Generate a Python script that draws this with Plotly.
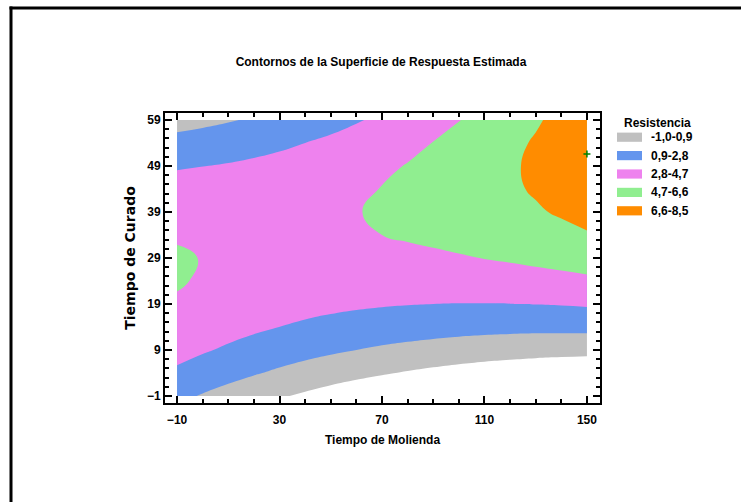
import plotly.graph_objects as go

# ---- data ----
tiempo_molienda = [-10, 0, 10, 20, 30, 40, 50, 60, 70, 80, 90, 100, 110, 120, 130, 140, 150]
tiempo_curado = [-1, 4, 9, 14, 19, 24, 29, 34, 39, 44, 49, 54, 59]
resistencia = [
    [1.34, 0.76, 0.21, -0.32, -0.82, -1.29, -1.74, -2.16, -2.56, -2.93, -3.27, -3.59, -3.88, -4.14, -4.38, -4.59, -4.78],
    [2.49, 1.98, 1.50, 1.04, 0.61, 0.21, -0.17, -0.52, -0.84, -1.14, -1.41, -1.66, -1.88, -2.07, -2.24, -2.38, -2.49],
    [3.41, 2.97, 2.56, 2.17, 1.81, 1.48, 1.18, 0.90, 0.64, 0.42, 0.22, 0.04, -0.11, -0.23, -0.33, -0.39, -0.44],
    [4.10, 3.73, 3.39, 3.08, 2.79, 2.53, 2.30, 2.09, 1.91, 1.75, 1.62, 1.52, 1.44, 1.39, 1.36, 1.37, 1.39],
    [4.57, 4.27, 4.00, 3.76, 3.54, 3.35, 3.19, 3.05, 2.94, 2.86, 2.80, 2.77, 2.76, 2.78, 2.83, 2.90, 3.00],
    [4.81, 4.58, 4.39, 4.22, 4.07, 3.95, 3.86, 3.79, 3.75, 3.74, 3.75, 3.79, 3.86, 3.95, 4.07, 4.21, 4.38],
    [4.82, 4.67, 4.54, 4.44, 4.37, 4.32, 4.30, 4.31, 4.34, 4.40, 4.48, 4.59, 4.73, 4.89, 5.08, 5.29, 5.53],
    [4.61, 4.53, 4.48, 4.45, 4.45, 4.47, 4.52, 4.60, 4.70, 4.83, 4.98, 5.16, 5.37, 5.60, 5.86, 6.15, 6.46],
    [4.18, 4.17, 4.19, 4.23, 4.30, 4.39, 4.51, 4.66, 4.83, 5.03, 5.26, 5.51, 5.79, 6.09, 6.43, 6.78, 7.17],
    [3.52, 3.58, 3.67, 3.78, 3.92, 4.09, 4.28, 4.50, 4.74, 5.01, 5.31, 5.63, 5.98, 6.36, 6.76, 7.19, 7.64],
    [2.63, 2.77, 2.92, 3.11, 3.32, 3.56, 3.82, 4.11, 4.42, 4.77, 5.13, 5.53, 5.95, 6.40, 6.87, 7.37, 7.90],
    [1.52, 1.72, 1.95, 2.21, 2.49, 2.80, 3.13, 3.50, 3.88, 4.30, 4.73, 5.20, 5.69, 6.21, 6.76, 7.33, 7.92],
    [0.18, 0.46, 0.76, 1.09, 1.44, 1.82, 2.22, 2.66, 3.11, 3.60, 4.11, 4.65, 5.21, 5.80, 6.41, 7.06, 7.72],
]
niveles = [-1.0, 0.9, 2.8, 4.7, 6.6, 8.5]
etiquetas = ["-1,0-0,9", "0,9-2,8", "2,8-4,7", "4,7-6,6", "6,6-8,5"]
colores = ["#C0C0C0", "#6495ED", "#EE82EE", "#90EE90", "#FF8C00"]
optimo_x = [150]
optimo_y = [51.6]

# ---- layout geometry ----
W, H = 741, 502
ML, MR, MT, MB = 165, 141, 113, 99
PW, PH = W - ML - MR, H - MT - MB

def px(xp):
    return (xp - ML) / PW

def py(yp):
    return (H - MB - yp) / PH

NARROW = "Liberation Sans Narrow, Arial Narrow, Liberation Sans, sans-serif"
step = niveles[1] - niveles[0]
n = len(niveles)
cscale = [[0.0, "#FFFFFF"]]
for i, c in enumerate(colores):
    cscale.append([(i + 1) / n, c])
cscale.append([1.0, colores[-1]])

fig = go.Figure()
fig.add_trace(go.Contour(
    x=tiempo_molienda, y=tiempo_curado, z=resistencia,
    contours=dict(start=niveles[0], end=niveles[-1], size=step,
                  coloring="fill", showlines=False),
    line=dict(smoothing=1.3, width=0),
    colorscale=cscale, showscale=False, hoverinfo="skip",
))
fig.add_trace(go.Scatter(
    x=optimo_x, y=optimo_y, mode="markers", cliponaxis=False,
    marker=dict(symbol="cross-thin", size=5, line=dict(color="#008000", width=1.5)),
    hoverinfo="skip", showlegend=False,
))

axis_common = dict(
    showline=True, linecolor="black", linewidth=2, mirror="ticks",
    ticks="inside", ticklen=7, tickwidth=2, tickcolor="black",
    showgrid=False, zeroline=False,
    tickfont=dict(family=NARROW, size=12, color="black", weight="bold"),
)
fig.update_xaxes(
    range=[-14.7, 155.1], tickmode="linear", tick0=-10, dtick=40,
    ticklabelstandoff=5,
    minor=dict(ticks="inside", ticklen=4, tickwidth=1.5, tickcolor="black",
               tickmode="linear", tick0=-10, dtick=10, showgrid=False),
    title=dict(text="Tiempo de Molienda", standoff=9,
               font=dict(family=NARROW, size=12, color="black", weight="bold")),
    **axis_common,
)
fig.update_yaxes(
    range=[-2.5, 60.5], tickmode="linear", tick0=-1, dtick=10,
    minor=dict(ticks="inside", ticklen=4, tickwidth=1.5, tickcolor="black",
               tickmode="linear", tick0=-1, dtick=2, showgrid=False),
    title=dict(text="Tiempo de Curado", standoff=8,
               font=dict(family="DejaVu Sans", size=14, color="black", weight="bold")),
    **axis_common,
)

# outer frame: top and left edges as thin filled bars kept inside the page
shapes = [
    dict(type="rect", xref="paper", yref="paper", layer="below",
         x0=px(9.5), x1=px(W), y0=py(9.5), y1=py(6.5),
         line=dict(width=0), fillcolor="black"),
    dict(type="rect", xref="paper", yref="paper", layer="below",
         x0=px(9.5), x1=px(12.5), y0=py(H), y1=py(6.5),
         line=dict(width=0), fillcolor="black"),
]
annotations = [dict(text="Resistencia", xref="paper", yref="paper",
                    x=px(657), y=py(123), showarrow=False,
                    xanchor="center", yanchor="middle",
                    font=dict(family=NARROW, size=12, color="black", weight="bold"))]
y0_leg, dy_leg = 137.2, 18.4
for i, (lab, col) in enumerate(zip(etiquetas, colores)):
    yc = y0_leg + i * dy_leg
    shapes.append(dict(type="rect", xref="paper", yref="paper",
                       x0=px(617), x1=px(642), y0=py(yc + 4.6), y1=py(yc - 4.6),
                       line=dict(width=0), fillcolor=col))
    annotations.append(dict(text=lab, xref="paper", yref="paper",
                            x=px(649), y=py(yc), showarrow=False,
                            xanchor="left", yanchor="middle",
                            font=dict(family=NARROW, size=12, color="black", weight="bold")))

fig.update_layout(
    width=W, height=H,
    margin=dict(l=ML, r=MR, t=MT, b=MB, autoexpand=False),
    paper_bgcolor="white", plot_bgcolor="white",
    showlegend=False,
    title=dict(text="Contornos de la Superficie de Respuesta Estimada",
               x=px(381), xanchor="center", xref="paper",
               y=1 - 62 / H, yanchor="middle", yref="container",
               font=dict(family=NARROW, size=12, color="black", weight="bold")),
    shapes=shapes, annotations=annotations,
)
fig.write_html("out.html")
